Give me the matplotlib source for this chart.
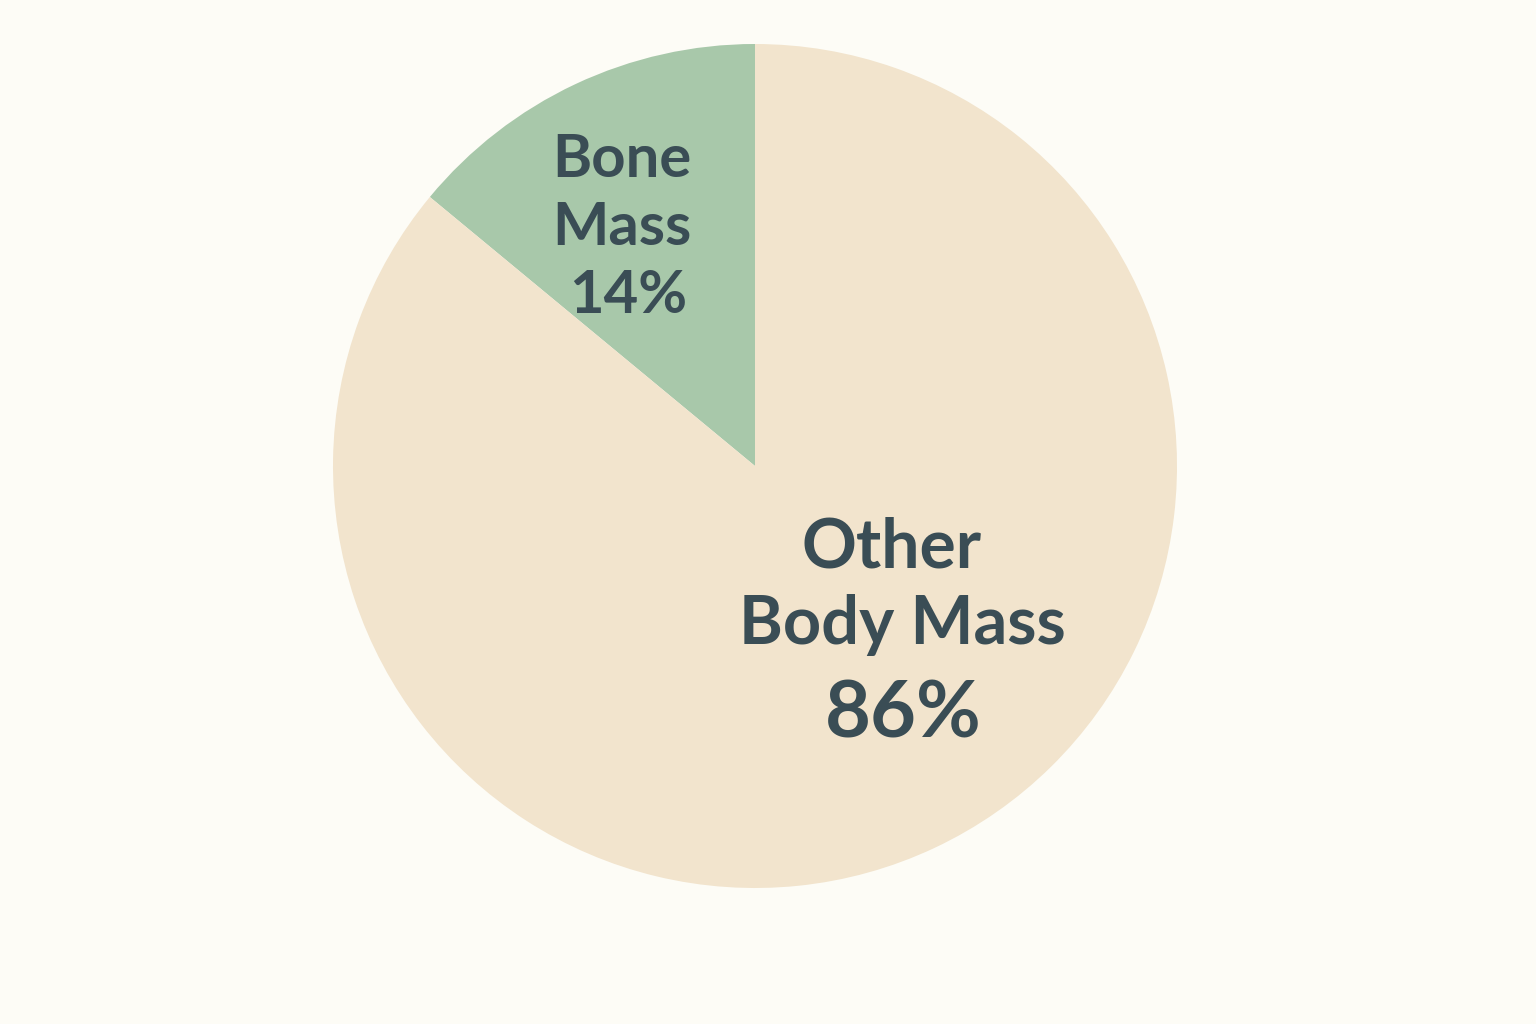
import numpy as np
import matplotlib.pyplot as plt

# data
labels = ["Bone Mass", "Other Body Mass"]
values = [14, 86]
colors = ["#a8c8aa", "#f2e4cd"]

bg = "#fdfcf6"
txt_col = "#3a4d55"

fig = plt.figure(figsize=(15.36, 10.24), dpi=100, facecolor=bg)
W, H = 1536.0, 1024.0
cx, cy, r = 755.0, 466.0, 422.0
ax = fig.add_axes([(cx - r) / W, (H - cy - r) / H, 2 * r / W, 2 * r / H])
ax.set_facecolor(bg)

ax.pie(values, colors=colors, startangle=90, counterclock=True,
       radius=1.0, wedgeprops=dict(linewidth=0))
ax.set_xlim(-1, 1)
ax.set_ylim(-1, 1)
ax.set_aspect("equal")
ax.axis("off")

font = ["Lato", "DejaVu Sans"]

def px(x, y):
    return (x - cx) / r, (cy - y) / r

# bone mass label
for s, (x, y) in zip(["Bone", "Mass", "%d%%" % values[0]],
                     [(622, 160), (622, 228), (628, 296)]):
    ax.text(*px(x, y), s, ha="center", va="center", fontsize=43,
            fontweight="bold", color=txt_col, family=font)

# other body mass label
ax.text(*px(892, 548), "Other", ha="center", va="center", fontsize=49,
        fontweight="bold", color=txt_col, family=font)
ax.text(*px(902, 625), "Body Mass", ha="center", va="center", fontsize=48,
        fontweight="bold", color=txt_col, family=font)
ax.text(*px(903, 716), "%d%%" % values[1], ha="center", va="center", fontsize=57,
        fontweight="bold", color=txt_col, family=font)

fig.savefig("out.png", dpi=100, facecolor=bg)
